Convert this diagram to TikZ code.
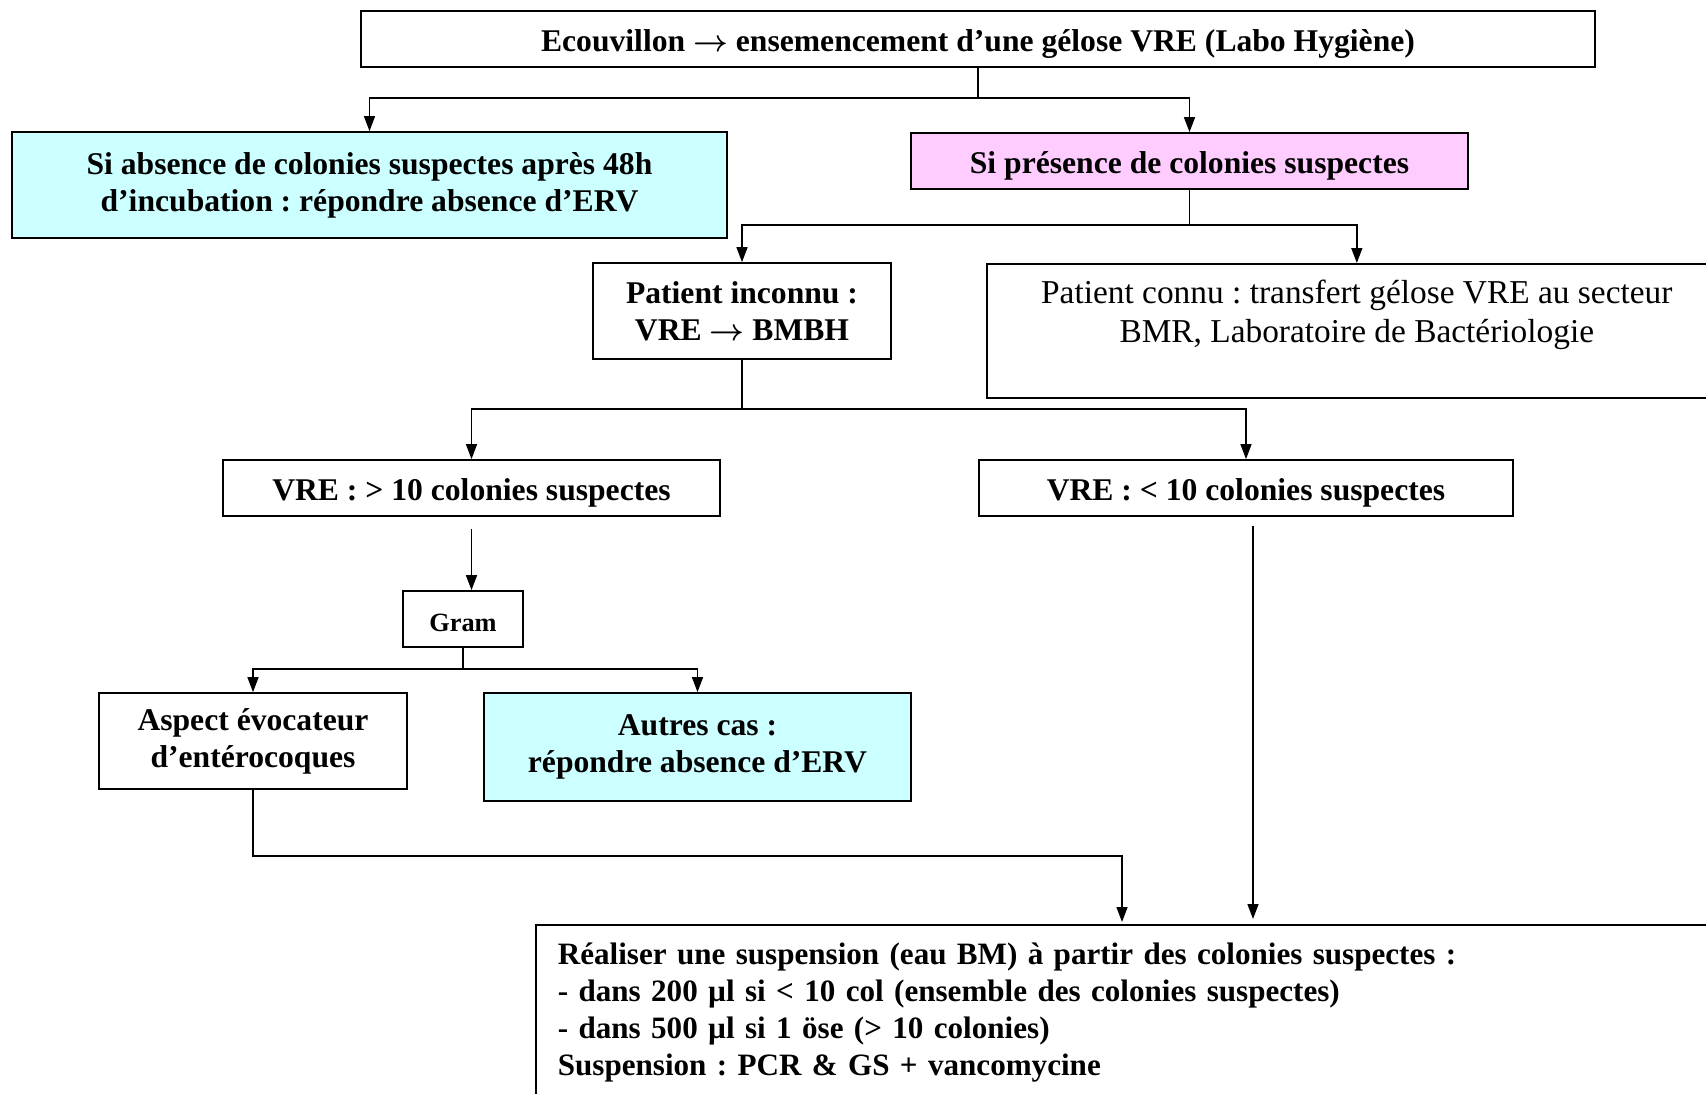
\documentclass[tikz,border=0pt]{standalone}
\usepackage{amsmath}
\usepackage{fontspec}
\setmainfont{Liberation Serif}
\frenchspacing
\usetikzlibrary{arrows.meta}
\definecolor{bleuclair}{RGB}{204,255,255}
\definecolor{roseclair}{RGB}{255,204,255}
\newcommand{\fl}{$\boldsymbol{\rightarrow}$}
\tikzset{
  boite/.style={draw, line width=1pt, align=center, inner sep=2pt},
  uneligne/.style={text height=1.4em, text depth=0pt},
  arr/.style={-{Triangle[width=0.22cm,length=0.3cm]}, line width=0.8pt},
  lien/.style={line width=0.8pt}
}
\begin{document}
\begin{tikzpicture}[x=0.02cm, y=-0.02cm, font=\fontsize{18}{21}\selectfont\bfseries]
    \useasboundingbox (0,0) rectangle (1706,1093);
    \clip (0,0) rectangle (1706,1093);
    % boîtes
    \node[boite, uneligne, minimum width=24.68cm, minimum height=1.12cm] (top) at (978,39)
        {Ecouvillon \fl{} ensemencement d’une gélose VRE (Labo Hygiène)};
    \node[boite, fill=bleuclair, minimum width=14.3cm, minimum height=2.12cm] (absence) at (369.5,185)
        {Si absence de colonies suspectes après 48h\\ d’incubation : répondre absence d’ERV};
    \node[boite, uneligne, fill=roseclair, minimum width=11.14cm, minimum height=1.12cm] (presence) at (1189.5,161)
        {Si présence de colonies suspectes};
    \node[boite, minimum width=5.96cm, minimum height=1.92cm] (inconnu) at (742,311)
        {Patient inconnu :\\ VRE \fl{} BMBH};
    \node[boite, inner sep=0pt, anchor=north west, font=\fontsize{19}{22}\selectfont\mdseries] (connu) at (986,263)
        {\parbox[t][2.68cm][t]{14.8cm}{\centering\vspace*{0.33cm}Patient connu : transfert gélose VRE au secteur\\ BMR, Laboratoire de Bactériologie}};
    \node[boite, uneligne, minimum width=9.94cm, minimum height=1.12cm] (vregt) at (471.5,488)
        {VRE : > 10 colonies suspectes};
    \node[boite, uneligne, minimum width=10.68cm, minimum height=1.12cm] (vrelt) at (1246,488)
        {VRE : < 10 colonies suspectes};
    \node[boite, uneligne, minimum width=2.4cm, minimum height=1.12cm, font=\fontsize{15}{18}\selectfont\bfseries] (gram) at (463,619)
        {Gram};
    \node[boite, minimum width=6.16cm, minimum height=1.92cm] (aspect) at (253,741)
        {Aspect évocateur\\ d’entérocoques};
    \node[boite, fill=bleuclair, minimum width=8.54cm, minimum height=2.16cm] (autres) at (697.5,747)
        {Autres cas :\\ répondre absence d’ERV};
    \node[boite, anchor=north west, minimum width=24.3cm, minimum height=3.52cm, text width=23.42cm, align=left, inner xsep=0.44cm, font=\fontsize{17.7}{21}\selectfont\bfseries] (susp) at (535,924)
        {Réaliser une suspension (eau BM) à partir des colonies suspectes :\\
         - dans 200 µl si < 10 col (ensemble des colonies suspectes)\\
         - dans 500 µl si 1 öse (> 10 colonies)\\
         Suspension : PCR \& GS + vancomycine};
    % points de jonction
    \coordinate (j1) at (978,98);
    \coordinate (j2) at (1189.5,225);
    \coordinate (j3) at (742,409);
    \coordinate (j4) at (463,669);
    \coordinate (j5) at (253,856);
    \coordinate (j6) at (1122,856);
    % flèches
    \draw[lien] (top.south) -- (j1);
    \draw[arr] (j1) -| (absence.north);
    \draw[arr] (j1) -| (presence.north);
    \draw[lien] (presence.south) -- (j2);
    \draw[arr] (j2) -| (inconnu.north);
    \draw[arr] (j2) -| (connu.north);
    \draw[lien] (inconnu.south) -- (j3);
    \draw[arr] (j3) -| (vregt.north);
    \draw[arr] (j3) -| (vrelt.north);
    \draw[arr] ([yshift=-0.24cm]vregt.south) -- (vregt.south |- gram.north);
    \draw[lien] (gram.south) -- (j4);
    \draw[arr] (j4) -| (aspect.north);
    \draw[arr] (j4) -| (autres.north);
    \draw[arr] (aspect.south) -- (j5) -- (j6) -- ([yshift=0.04cm]j6 |- susp.north);
    \draw[arr] ([xshift=0.14cm,yshift=-0.18cm]vrelt.south) -- ([xshift=0.14cm,yshift=0.1cm]vrelt.south |- susp.north);
\end{tikzpicture}
\end{document}
